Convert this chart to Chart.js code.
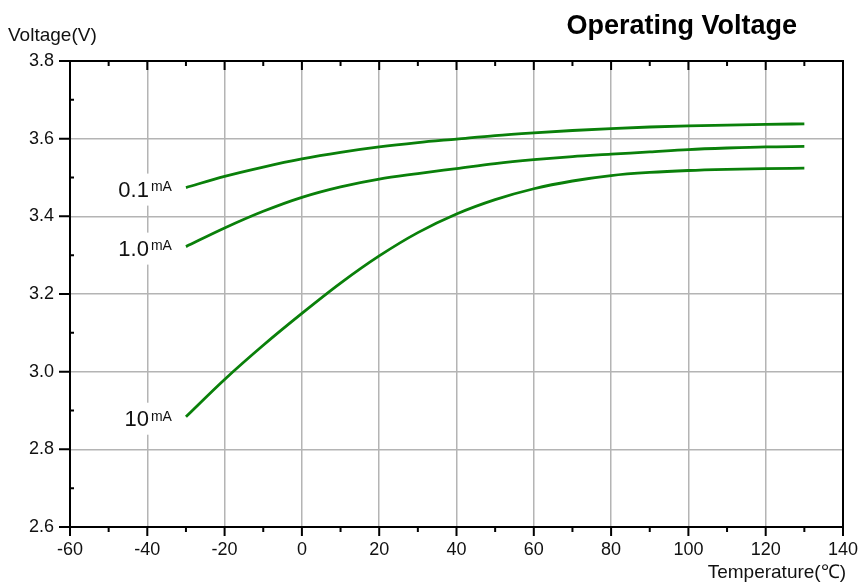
<!DOCTYPE html>
<html>
<head>
<meta charset="utf-8">
<script src="https://cdn.jsdelivr.net/npm/chart.js@4"></script>
<style>
  body { margin: 0; background: #fff; }
  #wrap { width: 863px; height: 585px; }
</style>
</head>
<body>
<div id="wrap"><canvas id="chart" width="863" height="585"></canvas></div>
<script>
// temperature points (°C)
const temps = [-30, -20, -10, 0, 10, 20, 30, 40, 50, 60, 70, 80, 90, 100, 110, 120, 130];
// voltage per load current
const v01 = [3.474, 3.503, 3.527, 3.548, 3.565, 3.579, 3.590, 3.599, 3.608, 3.615, 3.621, 3.626, 3.630, 3.633, 3.635, 3.637, 3.638];
const v10 = [3.322, 3.370, 3.413, 3.449, 3.476, 3.496, 3.510, 3.523, 3.536, 3.546, 3.554, 3.560, 3.566, 3.572, 3.576, 3.579, 3.580];
const v100 = [2.884, 2.980, 3.068, 3.150, 3.228, 3.298, 3.358, 3.406, 3.443, 3.471, 3.491, 3.505, 3.513, 3.518, 3.521, 3.523, 3.524];
const currentLabels = ["0.1", "1.0", "10"];
const unitLabel = "mA";
const chartTitle = "Operating Voltage";
const yTitle = "Voltage(V)";
const xTitle = "Temperature(\u2103)";

const FONT = "'Liberation Sans', Arial, sans-serif";
const green = "#0a800a";

function makeSet(vals) {
    return {
        data: temps.map((t, i) => ({ x: t, y: vals[i] })),
        borderColor: green,
        borderWidth: 2.8,
        pointRadius: 0,
        fill: false,
        cubicInterpolationMode: "monotone"
    };
}

// frame, ticks, series labels and titles
const decor = {
    id: "decor",
    afterDatasetsDraw(chart) {
        const ctx = chart.ctx;
        const a = chart.chartArea;
        const xs = chart.scales.x, ys = chart.scales.y;
        ctx.save();
        ctx.strokeStyle = "#000";
        ctx.lineWidth = 2;
        ctx.strokeRect(a.left, a.top, a.right - a.left, a.bottom - a.top);
        ctx.beginPath();
        for (let t = -60; t <= 140; t += 10) {
            const px = xs.getPixelForValue(t);
            const major = t % 20 === 0;
            // bottom ticks point out
            ctx.moveTo(px, a.bottom);
            ctx.lineTo(px, a.bottom + (major ? 9 : 5));
            // top ticks point in
            ctx.moveTo(px, a.top);
            ctx.lineTo(px, a.top + (major ? 9 : 5));
        }
        for (let i = 0; i <= 12; i++) {
            const v = 2.6 + i * 0.1;
            const py = ys.getPixelForValue(v);
            if (i % 2 === 0) {
                ctx.moveTo(a.left - 11, py);
                ctx.lineTo(a.left, py);
            } else {
                ctx.moveTo(a.left, py);
                ctx.lineTo(a.left + 4, py);
            }
        }
        ctx.stroke();

        // series labels with white background
        chart.data.datasets.forEach((ds, i) => {
            const p0 = ds.data[0];
            const xEnd = xs.getPixelForValue(p0.x) - 14;
            const yc = ys.getPixelForValue(p0.y) + 2;
            ctx.font = "14px " + FONT;
            const wu = ctx.measureText(unitLabel).width;
            ctx.font = "22px " + FONT;
            const wn = ctx.measureText(currentLabels[i]).width;
            const x0 = xEnd - wu - wn - 2;
            ctx.fillStyle = "#fff";
            ctx.fillRect(x0 - 3, yc - 16, wu + wn + 8, 32);
            ctx.fillStyle = "#111";
            ctx.textBaseline = "middle";
            ctx.textAlign = "left";
            ctx.fillText(currentLabels[i], x0, yc + 1);
            ctx.font = "14px " + FONT;
            ctx.fillText(unitLabel, x0 + wn + 2, yc - 2);
        });

        // titles
        ctx.fillStyle = "#111";
        ctx.textBaseline = "middle";
        ctx.textAlign = "left";
        ctx.font = "19px " + FONT;
        ctx.fillText(yTitle, 8, 36);
        ctx.textAlign = "right";
        ctx.fillText(xTitle, 846, 573);
        ctx.font = "bold 27px " + FONT;
        ctx.fillStyle = "#000";
        ctx.fillText(chartTitle, 797, 27);
        ctx.restore();
    }
};

new Chart(document.getElementById("chart"), {
    type: "line",
    data: {
        datasets: [makeSet(v01), makeSet(v10), makeSet(v100)]
    },
    options: {
        responsive: false,
        animation: false,
        layout: { padding: { top: 61, right: 20, left: 0, bottom: 0 } },
        plugins: { legend: { display: false }, tooltip: { enabled: false } },
        scales: {
            x: {
                type: "linear",
                min: -60, max: 140,
                border: { display: false },
                grid: { color: "#b4b4b4", lineWidth: 1.5, drawTicks: false },
                ticks: { stepSize: 20, color: "#111", padding: 12, font: { family: FONT, size: 18 }, maxRotation: 0 },
                afterFit(s) { s.height = 58; s.paddingLeft = 0; s.paddingRight = 0; }
            },
            y: {
                min: 2.6, max: 3.8,
                border: { display: false },
                grid: { color: "#b4b4b4", lineWidth: 1.5, drawTicks: false },
                ticks: {
                    stepSize: 0.2, color: "#111", padding: 16,
                    font: { family: FONT, size: 18 },
                    callback: v => v.toFixed(1)
                },
                afterFit(s) { s.width = 70; s.paddingTop = 0; s.paddingBottom = 0; }
            }
        }
    },
    plugins: [decor]
});
</script>
</body>
</html>
